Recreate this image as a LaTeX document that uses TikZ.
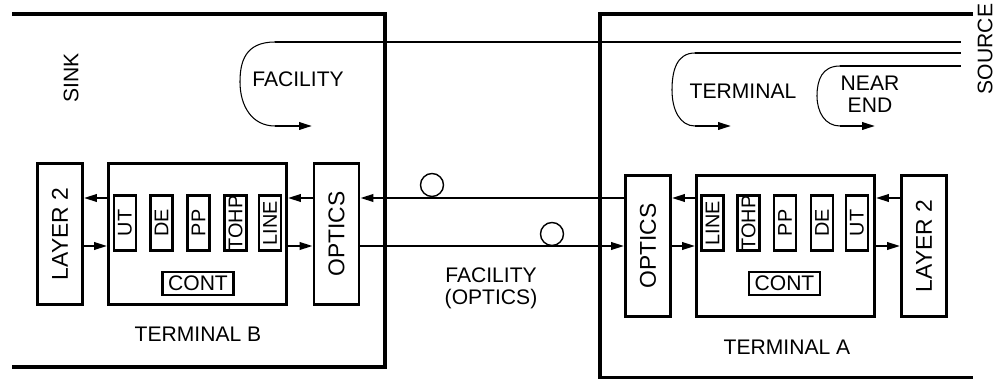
\documentclass[tikz,border=0pt]{standalone}
\usepackage{fontspec}
\setmainfont{Liberation Sans}
\usetikzlibrary{arrows.meta}

\begin{document}
\begin{tikzpicture}[x=0.2mm, y=-0.2mm, >={Triangle[length=2.6mm,width=1.5mm]},
    every node/.style={font=\fontsize{12}{12.5}\selectfont},
    box/.style={draw, line width=1.6pt, minimum width=9mm, minimum height=28.2mm, inner sep=0pt,
        font=\fontsize{13}{14}\selectfont},
    wide/.style={box, minimum width=35.6mm},
    cell/.style={draw, line width=1.4pt, minimum width=4.4mm, minimum height=11mm, inner sep=0pt,
        font=\fontsize{11.3}{12}\selectfont},
    cont/.style={draw, line width=1.4pt, minimum width=14.2mm, minimum height=4.6mm, inner sep=0pt},
    bubble/.style={draw, circle, line width=0.8pt, minimum size=4.6mm, inner sep=0pt},
    wall/.style={line width=1.9pt},
    conn/.style={line width=1.2pt},
    loop/.style={line width=0.6pt}]
    \useasboundingbox (0,0) rectangle (1000,379);

    % terminal B, the sink
    \draw[wall] (12,14) -| (385,367) -- (12,367);
    \node[rotate=90] (sink) at (71,78) {SINK};
    \node[box] (layerB) at (60,234) {\rotatebox{90}{LAYER 2}};
    \node[wide] (termB) at (197.5,234) {};
    \node[box] (opticsB) at (336.5,234) {\rotatebox{90}{OPTICS}};
    \node[cell] (utB) at (125,223) {\rotatebox{90}{UT}};
    \node[cell] (deB) at (161.5,223) {\rotatebox{90}{DE}};
    \node[cell] (ppB) at (198.5,223) {\rotatebox{90}{PP}};
    \node[cell] (tohpB) at (235.5,223) {\rotatebox{90}{TOHP}};
    \node[cell] (lineB) at (270,223) {\rotatebox{90}{LINE}};
    \node[cont] (contB) at (198,283.5) {CONT};
    \node (nameB) at (198,334) {TERMINAL B};

    % terminal A, the source
    \draw[wall] (973,14) -| (600,378) -- (973,378);
    \node[rotate=90] (source) at (985,49) {SOURCE};
    \node[box] (opticsA) at (648,246) {\rotatebox{90}{OPTICS}};
    \node[wide] (termA) at (785.5,246) {};
    \node[box] (layerA) at (924,246) {\rotatebox{90}{LAYER 2}};
    \node[cell] (lineA) at (712.5,223) {\rotatebox{90}{LINE}};
    \node[cell] (tohpA) at (748.5,223) {\rotatebox{90}{TOHP}};
    \node[cell] (ppA) at (785,223) {\rotatebox{90}{PP}};
    \node[cell] (deA) at (822,223) {\rotatebox{90}{DE}};
    \node[cell] (utA) at (857,223) {\rotatebox{90}{UT}};
    \node[cont] (contA) at (784.5,283.5) {CONT};
    \node (nameA) at (787,347) {TERMINAL A};

    % the two fibres
    \coordinate (hi) at (0,198);
    \coordinate (lo) at (0,246);
    \draw[conn,->] (termB.west |- hi) -- (layerB.east |- hi);
    \draw[conn,->] (layerB.east |- lo) -- (termB.west |- lo);
    \draw[conn,->] (opticsB.west |- hi) -- (termB.east |- hi);
    \draw[conn,->] (termB.east |- lo) -- (opticsB.west |- lo);
    \draw[conn,->] (opticsA.west |- hi) -- (opticsB.east |- hi);
    \draw[conn,->] (opticsB.east |- lo) -- (opticsA.west |- lo);
    \draw[conn,->] (termA.west |- hi) -- (opticsA.east |- hi);
    \draw[conn,->] (opticsA.east |- lo) -- (termA.west |- lo);
    \draw[conn,->] (layerA.west |- hi) -- (termA.east |- hi);
    \draw[conn,->] (termA.east |- lo) -- (layerA.west |- lo);
    \node[bubble] (bubHi) at (432,185) {};
    \node[bubble] (bubLo) at (552,234) {};
    \node[align=center] (fibre) at (491,288.5) {FACILITY\\(OPTICS)};

    % loopbacks
    \coordinate (end) at (961,0);
    \coordinate (facTop) at (275,42);
    \coordinate (facBot) at (275,126);
    \draw[conn] (facTop) -- (end |- facTop);
    \draw[loop] (facTop) .. controls (245,42) and (240,62) .. (240,82)
        .. controls (240,106) and (252,126) .. (facBot);
    \draw[conn,->] (facBot) -- (312,126);
    \node (facility) at (298,79) {FACILITY};

    \coordinate (termTop) at (695,53);
    \coordinate (termBot) at (695,126);
    \draw[conn] (termTop) -- (end |- termTop);
    \draw[loop] (termTop) .. controls (677,53) and (672,70) .. (672,90)
        .. controls (672,110) and (680,126) .. (termBot);
    \draw[conn,->] (termBot) -- (731,126);
    \node (terminal) at (743,91) {TERMINAL};

    \coordinate (nearTop) at (840,66);
    \coordinate (nearBot) at (840,126);
    \draw[conn] (nearTop) -- (end |- nearTop);
    \draw[loop] (nearTop) .. controls (822,66) and (817,80) .. (817,96)
        .. controls (817,112) and (825,126) .. (nearBot);
    \draw[conn,->] (nearBot) -- (875,126);
    \node[align=center] (nearend) at (870,94) {NEAR\\END};
\end{tikzpicture}
\end{document}
